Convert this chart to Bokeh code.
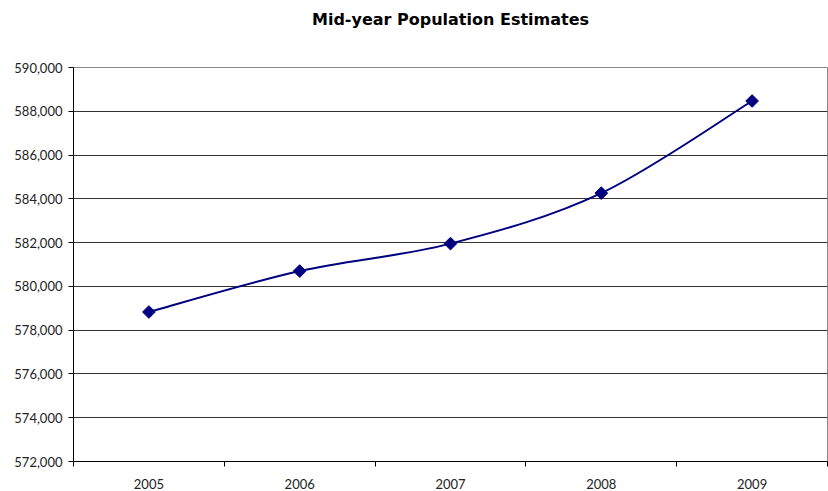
import math
from bokeh.plotting import figure
from bokeh.models import Range1d, FixedTicker, NumeralTickFormatter, Title
from bokeh.embed import file_html
from bokeh.resources import INLINE

title_text = "Mid-year Population Estimates"
years = ["2005", "2006", "2007", "2008", "2009"]
population = [578830, 580700, 581955, 584260, 588470]
y_ticks = [572000, 574000, 576000, 578000, 580000, 582000, 584000, 586000, 588000, 590000]

xs = [i + 0.5 for i in range(len(years))]

p = figure(width=828, height=491, x_range=Range1d(0, len(years)),
           y_range=Range1d(y_ticks[0], y_ticks[-1]),
           output_backend="svg", toolbar_location=None,
           min_border_left=73, min_border_right=1, min_border_top=67, min_border_bottom=27)

p.title.text = title_text
p.title.align = "center"
p.title.offset = -32
p.title.text_font = "DejaVu Sans"
p.title.text_font_style = "bold"
p.title.text_font_size = "16px"
p.title.text_color = "black"
p.title.standoff = 0

spacer = Title(text=" ", text_font_size="24px", standoff=10)
p.add_layout(spacer, "above")

# smooth line (Catmull-Rom -> Bezier) computed from data
n = len(xs)
x0s, y0s, x1s, y1s, cx0, cy0, cx1, cy1 = [], [], [], [], [], [], [], []
for i in range(n - 1):
    pxm = xs[i - 1] if i > 0 else xs[i]
    pym = population[i - 1] if i > 0 else population[i]
    pxp = xs[i + 2] if i + 2 < n else xs[i + 1]
    pyp = population[i + 2] if i + 2 < n else population[i + 1]
    x0s.append(xs[i]); y0s.append(population[i])
    x1s.append(xs[i + 1]); y1s.append(population[i + 1])
    cx0.append(xs[i] + (xs[i + 1] - pxm) / 6); cy0.append(population[i] + (population[i + 1] - pym) / 6)
    cx1.append(xs[i + 1] - (pxp - xs[i]) / 6); cy1.append(population[i + 1] - (pyp - population[i]) / 6)

p.bezier(x0=x0s, y0=y0s, x1=x1s, y1=y1s, cx0=cx0, cy0=cy0, cx1=cx1, cy1=cy1,
         line_color="#000080", line_width=2)
p.scatter(xs, population, marker="square", size=9, angle=math.pi / 4,
          fill_color="#000080", line_color="#000080")

# axes
p.xaxis.ticker = FixedTicker(ticks=xs, minor_ticks=list(range(len(years) + 1)))
p.xaxis.major_label_overrides = {x: y for x, y in zip(xs, years)}
p.xaxis.major_tick_out = 0
p.xaxis.major_tick_in = 0
p.xaxis.minor_tick_out = 5
p.xaxis.minor_tick_in = 0
p.xaxis.minor_tick_line_color = "black"
p.xaxis.axis_line_color = "black"
p.xaxis.major_label_standoff = 12

p.yaxis.ticker = FixedTicker(ticks=y_ticks)
p.yaxis.formatter = NumeralTickFormatter(format="0,0")
p.yaxis.major_tick_out = 5
p.yaxis.major_tick_in = 0
p.yaxis.minor_tick_line_color = None
p.yaxis.axis_line_color = "black"
p.yaxis.major_label_standoff = 6

for ax in (p.xaxis, p.yaxis):
    ax.major_label_text_font = "Lato"
    ax.major_label_text_font_size = "13px"
    ax.major_label_text_color = "#222222"
    ax.major_tick_line_color = "black"

p.xgrid.grid_line_color = None
p.ygrid.grid_line_color = "#333333"
p.ygrid.grid_line_width = 1
p.outline_line_color = "#888888"
p.background_fill_color = "white"
p.border_fill_color = "white"

open("out.html", "w").write(file_html(p, INLINE))
